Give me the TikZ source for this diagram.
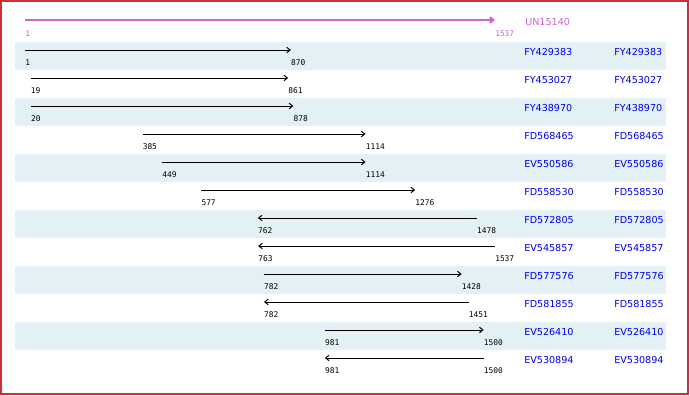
\documentclass[tikz,border=0pt]{standalone}
\usepackage{fontspec}
\usepackage{xcolor}
\usetikzlibrary{arrows.meta}
\newfontfamily\numfont{DejaVu Sans Mono}
\newfontfamily\idfont{DejaVu Sans}
\definecolor{bandblue}{HTML}{E3F1F5}
\definecolor{idblue}{HTML}{0000EE}
\definecolor{queryviolet}{HTML}{CC66CC}
\definecolor{framered}{HTML}{C83232}

\tikzset{
  hit/.style={line width=0.75pt, -{Straight Barb[length=2.6pt,width=4.2pt]}},
  poslabel/.style={anchor=north west, inner sep=0pt, font=\numfont\fontsize{5.9}{6}\selectfont},
  acc/.style={anchor=west, inner sep=0pt, text=idblue, font=\idfont\fontsize{7.2}{8}\selectfont},
}

\begin{document}
\begin{tikzpicture}[x=0.75pt,y=-0.75pt]
            \useasboundingbox (0,0) rectangle (690,396);
            \draw[framered, line width=1.2pt] (1,1) rectangle (688,394);

            % query line
            \coordinate (qs) at (25,20);
            \coordinate (qe) at (495,20);
            \path [hit, queryviolet, line width=1.6pt] (qs) edge (qe);
            \node[poslabel, text=queryviolet] (lqs) at (25,30) {1};
            \node[poslabel, text=queryviolet] (lqe) at (495,30) {1537};
            \node[acc, text=queryviolet] (q) at (525,22) {UN15140};

            % hits
            \foreach \nm/\st/\en/\dir [count=\i from 0] in {
                FY429383/1/870/f, FY453027/19/861/f, FY438970/20/878/f,
                FD568465/385/1114/f, EV550586/449/1114/f, FD558530/577/1276/f,
                FD572805/762/1478/r, EV545857/763/1537/r, FD577576/782/1428/f,
                FD581855/782/1451/r, EV526410/981/1500/f, EV530894/981/1500/r} {
              \pgfmathsetmacro\yt{42+28*\i}
              \pgfmathsetmacro\xa{25+(\st-1)/1536*470}
              \pgfmathsetmacro\xb{25+(\en-1)/1536*470}
              \ifodd\i\else
                \fill[bandblue] (15,\yt) rectangle (666,\yt+28);
              \fi
              \coordinate (s\i) at (\xa,\yt+8);
              \coordinate (e\i) at (\xb,\yt+8);
              \if\dir f
                \path [hit] (s\i) edge (e\i);
              \else
                \path [hit] (e\i) edge (s\i);
              \fi
              \node[poslabel] (ls\i) at (\xa,\yt+17.5) {\st};
              \node[poslabel] (le\i) at (\xb,\yt+17.5) {\en};
              \node[acc] (n\i) at (524,\yt+10) {\nm};
              \node[acc] (m\i) at (614,\yt+10) {\nm};
            }
        \end{tikzpicture}
\end{document}
